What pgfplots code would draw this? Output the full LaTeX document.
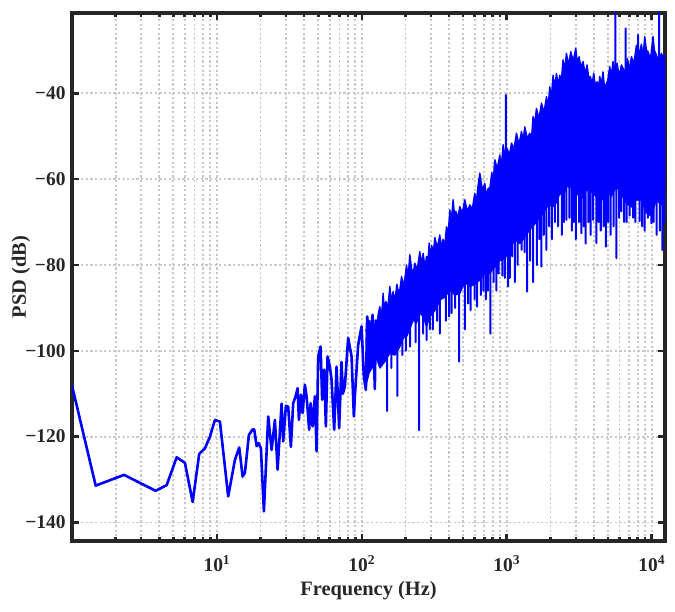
\documentclass[border=0pt]{standalone}
\usepackage{fontspec}
\setmainfont{Liberation Serif}
\usepackage{pgfplots}
\pgfplotsset{compat=1.18}
\definecolor{axgray}{RGB}{38,38,38}
\definecolor{gridgray}{RGB}{200,200,200}
\definecolor{psdblue}{RGB}{0,0,255}

\begin{document}
\begin{tikzpicture}
\begin{axis}[
  axis on top=false,
  scale only axis,
  width=593bp, height=528bp,
  xmode=log, log basis x=10,
  xmin=1, xmax=12350,
  ymin=-144.3, ymax=-21.3,
  xtick={10,100,1000,10000},
  xticklabels={10\textsuperscript{1},10\textsuperscript{2},10\textsuperscript{3},10\textsuperscript{4}},
  minor xtick={2,3,4,5,6,7,8,9,20,30,40,50,60,70,80,90,200,300,400,500,600,700,800,900,2000,3000,4000,5000,6000,7000,8000,9000},
  ytick={-140,-120,-100,-80,-60,-40},
  yticklabels={−140,−120,−100,−80,−60,−40},
  grid=both,
  major grid style={gridgray, line width=1.8bp, dash pattern=on 2.2bp off 2.4bp},
  minor grid style={gridgray, line width=1.8bp, dash pattern=on 2.2bp off 2.4bp},
  axis line style={axgray, line width=3.2bp},
  tick style={axgray, line width=2.6bp},
  major tick length=7bp, minor tick length=4.5bp,
  tick align=inside,
  ticklabel style={font=\fontsize{19.5}{21}\selectfont\bfseries, text=axgray},
  xticklabel style={anchor=base, yshift=-30.5bp},
  yticklabel style={anchor=base east, yshift=-6.3bp, xshift=-3bp},
  xlabel={Frequency (Hz)}, ylabel={PSD (dB)},
  label style={font=\fontsize{20.5}{22}\selectfont\bfseries, text=axgray},
  xlabel style={at={(axis description cs:0.5,-0.1023)}, anchor=base},
  ylabel style={at={(axis description cs:-0.0776,0.5)}, anchor=base},
]

% low frequency part, traced point by point
\addplot[psdblue, line width=2.6bp, line join=round] coordinates {
(1.0,-108.1) (1.457,-131.4) (2.284,-128.9) (3.777,-132.6) (4.499,-131.3)
(5.275,-124.8) (6.017,-126.1) (6.80,-135.2) (7.55,-124.0) (8.265,-122.7)
(8.95,-120.0) (9.69,-116.1) (10.49,-116.5) (11.96,-133.9) (13.31,-125.4)
(14.25,-122.5) (15.04,-129.3) (15.60,-128.4) (16.62,-119.6) (17.63,-118.3)
(18.08,-118.3) (18.79,-122.2) (19.39,-121.5) (20.11,-122.7) (21.09,-137.4)
(22.59,-115.3) (23.84,-123.1) (25.12,-116.1) (26.22,-127.7) (27.94,-112.3)
(28.66,-121.1) (29.92,-112.8) (31.02,-113.0) (32.38,-122.4) (33.60,-112.2)
(34.91,-110.6) (36.04,-108.7) (36.78,-116.1) (37.97,-110.2) (39.00,-114.5)
(40.45,-107.9) (41.56,-110.6) (43.31,-118.4) (44.29,-112.2) (45.71,-117.6)
(47.41,-110.6) (48.71,-123.4) (49.96,-101.3) (51.90,-99.0) (53.23,-111.4)
(54.95,-104.4) (56.45,-117.6) (58.0,-101.3) (60.17,-103.7) (61.81,-106.8)
(64.42,-118.4) (66.92,-103.7) (69.74,-118.0) (72.44,-102.6) (73.96,-110)
(76.33,-108.3) (80.44,-97.0) (84.92,-101.3) (88.08,-115.3) (89.49,-110.6)
(94.30,-98.6) (99.52,-94.3) (103.2,-106.0) (106.6,-109.1) (108.8,-92.0)
(113.6,-98.2) (118.6,-91.6) (122.9,-108.9) (124.9,-92.8)
};

% dense band above 100 Hz: upper envelope, then lower envelope back
\addplot[psdblue, fill=psdblue, line width=1.4bp, line join=round] coordinates {
(106.6,-95) (110,-97) (113.5,-93) (116,-95.5) (118.5,-91.6) (121.5,-96)
(124.9,-92.8) (127,-94.5) (129.5,-91.6) (133.1,-89.7) (136.5,-92.5)
(140.2,-86.6) (143,-90.5) (146.4,-88.5) (151,-90) (156.0,-85.0) (160,-88.5)
(164.4,-86.2) (169,-88.5) (174.3,-84.5) (181,-87) (187.9,-82.7) (195,-85)
(203.4,-80.0) (208.5,-83) (214.3,-77.6) (220.2,-80.8) (226,-82) (232.0,-79.6)
(241,-81) (251.2,-76.9) (258,-80) (264.7,-77.3) (272,-80.5) (279.4,-78.0)
(285,-80) (291.2,-74.9) (297,-78.5) (303.9,-75.5) (311,-77.5) (318.7,-73.6)
(332,-76) (345.1,-73.0) (353,-76.5) (362.0,-74.0) (373,-75.5) (383.8,-71.1)
(394,-73) (404.6,-67.2) (415,-69.5) (426.3,-64.8) (436,-68.5) (445.0,-67.5)
(459,-69) (474.1,-66.4) (493,-68) (513.2,-64.8) (534,-67.5) (555.7,-66.0)
(578,-67) (601.5,-63.3) (616,-65.5) (631.0,-62.0) (651.4,-58.6) (678,-62.5)
(705.2,-61.0) (724,-64) (743.1,-62.2) (765,-62) (788.1,-58.5) (806,-60.5)
(826.5,-55.5) (860,-57.5) (894.8,-54.4) (918,-57) (942.9,-52.0) (975,-55)
(1004.8,-52.8) (1040,-54.5) (1077.5,-51.6) (1120,-53) (1166.7,-49.3)
(1213,-52) (1263.3,-48.9) (1296,-51) (1330.6,-47.8) (1385,-50.5)
(1440.8,-49.3) (1478,-51) (1518.2,-45.4) (1560,-47) (1602.4,-43.5)
(1667,-46) (1735.3,-42.3) (1806,-44.5) (1879.1,-40.8) (1930,-43)
(1980.2,-38.5) (2030,-41) (2086.7,-35.8) (2140,-38.5) (2201.8,-35.4)
(2260,-38) (2320.2,-35.8) (2380,-37) (2444.9,-32.2) (2510,-34.5)
(2580.6,-30.7) (2670,-33.5) (2763.0,-30.3) (2875,-32.5) (2991.5,-29.5)
(3070,-33) (3152.4,-31.5) (3255,-34) (3359.2,-32.6) (3470,-35.5)
(3580.0,-33.4) (3680,-36.5) (3777.3,-36.1) (3880,-38) (3981.1,-35.3)
(4090,-38.5) (4195.1,-37.3) (4290,-39) (4379.4,-36.1) (4495,-38)
(4614.9,-35.0) (4715,-38.5) (4817.5,-38.1) (4970,-37) (5132.5,-33.8)
(5270,-36) (5408.6,-32.6) (5580,-35) (5763.7,-33.0) (5970,-36)
(6180.3,-33.4) (6339.2,-34.2) (6560,-35) (6799.9,-31.9) (7020,-34.5)
(7244.4,-31.5) (7540,-33) (7843.2,-28.8) (8160,-31) (8491.2,-28.6)
(8720,-31.5) (8947.8,-26.8) (9190,-30) (9429.1,-30.3) (9810,-32)
(10208.7,-26.8) (10430,-30) (10655.7,-30.7) (11150,-32.5) (11667,-30.7)
(12050,-32) (12350,-31.1)
(12350,-60.6) (11600,-66) (10775,-64.8) (9900,-68.5) (9193,-67.9)
(8500,-65) (7843,-64.8) (7250,-66.5) (6693,-65.6) (6180,-63.5) (5709,-61.7)
(5270,-64) (4871,-62.5) (4500,-65) (4155,-64.1) (3840,-63) (3546,-62.5)
(3270,-64.5) (3025,-63.3) (2790,-62) (2580.6,-61.7) (2450,-64) (2320.2,-63.3)
(2200,-65.5) (2086.7,-66.4) (1930,-66) (1779.9,-67.9) (1600,-70)
(1440.8,-71.8) (1330,-73.5) (1229.1,-75.0) (1135,-74) (1048.8,-76.5)
(970,-78.5) (894.8,-79) (825,-80.5) (763.4,-81.9) (705,-82) (651.4,-83.5)
(600,-84.5) (555.7,-85.0) (513,-84) (474.1,-86.6) (438,-87) (404.6,-85.8)
(374,-87.5) (345.1,-88.1) (327,-90) (310.3,-91.2) (295,-92) (279.4,-94.3)
(265,-92) (251.2,-91.2) (238,-93.5) (225.8,-92.8) (214,-95) (203.4,-96.7)
(193,-97) (182.9,-99) (169,-101) (156.0,-100.5) (144,-102.5) (133.1,-104)
(126,-101.5) (119.1,-103.7) (112.5,-105) (106.6,-108)
};

% single spikes out of the band
\addplot[psdblue, line width=2bp, line join=round] coordinates {
(149.4,-95) (149.4,-114) (149.4,-95)
(160,-96) (160,-104) (160,-96)
(175.7,-93) (175.7,-110.5) (175.7,-93)
(190,-92) (190,-101) (190,-92)
(201.1,-90) (201.1,-100) (201.1,-90)
(215,-89) (215,-99) (215,-89)
(235,-88) (235,-98) (235,-88)
(248.4,-86) (248.4,-118.5) (248.4,-86)
(265,-86) (265,-96) (265,-86)
(279.4,-86) (279.4,-97.5) (279.4,-86)
(295,-85) (295,-95) (295,-85)
(308.8,-83) (308.8,-95) (308.8,-83)
(330,-82) (330,-93) (330,-82)
(345.1,-81) (345.1,-96) (345.1,-81)
(379.6,-79) (379.6,-93) (379.6,-79)
(400,-78) (400,-92) (400,-78)
(415.6,-77) (415.6,-91.2) (415.6,-77)
(440,-77) (440,-90) (440,-77)
(468.9,-77) (468.9,-102.5) (468.9,-77)
(513.2,-76) (513.2,-95) (513.2,-76)
(540,-75) (540,-89) (540,-75)
(561.9,-75) (561.9,-90.5) (561.9,-75)
(600,-74) (600,-88) (600,-74)
(624.0,-74) (624.0,-89.7) (624.0,-74)
(661.8,-73) (661.8,-87) (661.8,-73)
(690,-72) (690,-86) (690,-72)
(716.5,-72) (716.5,-88) (716.5,-72)
(740,-71) (740,-86) (740,-71)
(772.0,-71) (772.0,-96) (772.0,-71)
(810,-70) (810,-84) (810,-70)
(849.1,-70) (849.1,-86) (849.1,-70)
(880,-69) (880,-82) (880,-69)
(934.0,-68) (934.0,-82.5) (934.0,-68)
(968.7,-67) (968.7,-83) (968.7,-67)
(984.2,-60) (984.2,-40.4) (984.2,-60)
(1020.9,-66) (1020.9,-85) (1020.9,-66)
(1048.8,-66) (1048.8,-83) (1048.8,-66)
(1090,-65) (1090,-78) (1090,-65)
(1135.4,-65) (1135.4,-84) (1135.4,-65)
(1190,-64) (1190,-80) (1190,-64)
(1263.3,-63) (1263.3,-76.5) (1263.3,-63)
(1330,-62) (1330,-77) (1330,-62)
(1380.4,-62) (1380.4,-86.2) (1380.4,-62)
(1450,-61) (1450,-79) (1450,-61)
(1518.2,-61) (1518.2,-84) (1518.2,-61)
(1610.2,-60) (1610.2,-80) (1610.2,-60)
(1680,-59) (1680,-74) (1680,-59)
(1735.3,-59) (1735.3,-80.4) (1735.3,-59)
(1800,-58) (1800,-73) (1800,-58)
(1879.1,-57) (1879.1,-76.5) (1879.1,-57)
(1960,-56) (1960,-71) (1960,-56)
(2043.8,-56) (2043.8,-74) (2043.8,-56)
(2150,-55) (2150,-70) (2150,-55)
(2258.4,-55) (2258.4,-71) (2258.4,-55)
(2395.1,-54) (2395.1,-73) (2395.1,-54)
(2480,-54) (2480,-70) (2480,-54)
(2580.6,-53) (2580.6,-69.5) (2580.6,-53)
(2700,-53) (2700,-69) (2700,-53)
(2807.3,-53) (2807.3,-72) (2807.3,-53)
(2900,-53) (2900,-70) (2900,-53)
(2991.5,-53) (2991.5,-74) (2991.5,-53)
(3150,-53) (3150,-70) (3150,-53)
(3274.7,-53) (3274.7,-72.6) (3274.7,-53)
(3400,-53) (3400,-71) (3400,-53)
(3506.0,-53) (3506.0,-75) (3506.0,-53)
(3650,-53) (3650,-70) (3650,-53)
(3795.8,-53) (3795.8,-73) (3795.8,-53)
(3950,-53) (3950,-69.5) (3950,-53)
(4155,-53) (4155,-74.9) (4155,-53)
(4300,-53) (4300,-70) (4300,-53)
(4449.4,-53) (4449.4,-72) (4449.4,-53)
(4650,-53) (4650,-71) (4650,-53)
(4817.5,-53) (4817.5,-75.7) (4817.5,-53)
(5000,-52) (5000,-70) (5000,-52)
(5215.0,-52) (5215.0,-73) (5215.0,-52)
(5450,-52) (5450,-71) (5450,-52)
(5619.3,-45) (5619.3,-18) (5619.3,-45)
(5709,-52) (5709,-78.4) (5709,-52)
(5950,-52) (5950,-69) (5950,-52)
(6180.3,-52) (6180.3,-67.5) (6180.3,-52)
(6450,-52) (6450,-70) (6450,-52)
(6617.6,-45) (6617.6,-24.9) (6617.6,-45)
(6723.8,-52) (6723.8,-70) (6723.8,-52)
(7050,-52) (7050,-68.5) (7050,-52)
(7431.0,-52) (7431.0,-69) (7431.0,-52)
(7700,-52) (7700,-70) (7700,-52)
(8045.0,-45) (8045.0,-26.4) (8045.0,-45)
(8265.0,-52) (8265.0,-69.8) (8265.0,-52)
(8600,-52) (8600,-71) (8600,-52)
(8947.8,-52) (8947.8,-72) (8947.8,-52)
(9400,-51) (9400,-69) (9400,-51)
(9952.4,-51) (9952.4,-70.3) (9952.4,-51)
(10300,-51) (10300,-70) (10300,-51)
(10826,-51) (10826,-73) (10826,-51)
(11229,-45) (11229,-18) (11229,-45)
(11400,-50) (11400,-72) (11400,-50)
(11852,-50) (11852,-76.5) (11852,-50)
(12200,-50) (12200,-70) (12200,-50)
};

\end{axis}
% page margins as in the reference
\path ([xshift=-72bp,yshift=13bp]current axis.north west)
  rectangle ([xshift=10bp,yshift=-71bp]current axis.south east);
\end{tikzpicture}
\end{document}
